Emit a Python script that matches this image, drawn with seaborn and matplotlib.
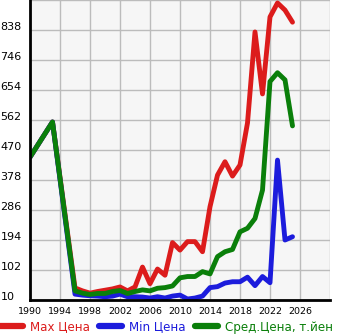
import matplotlib
matplotlib.use("Agg")
import matplotlib.pyplot as plt
import seaborn as sns
import pandas as pd

years = [1990, 1993, 1996, 1997, 1998, 1999, 2000, 2001, 2002, 2003, 2004, 2005,
         2006, 2007, 2008, 2009, 2010, 2011, 2012, 2013, 2014, 2015, 2016, 2017,
         2018, 2019, 2020, 2021, 2022, 2023, 2024, 2025]
max_price = [448, 556, 47, 38, 31, 36, 40, 44, 50, 38, 50, 111,
             60, 105, 86, 186, 163, 189, 189, 158, 296, 393, 434, 390,
             424, 553, 832, 642, 878, 921, 899, 862]
min_price = [448, 556, 28, 25, 23, 22, 20, 22, 28, 20, 20, 19,
             16, 20, 16, 22, 25, 13, 16, 22, 48, 51, 62, 66,
             66, 80, 54, 82, 63, 439, 194, 204]
avg_price = [448, 556, 38, 31, 27, 30, 30, 36, 39, 30, 36, 41,
             38, 46, 48, 53, 78, 82, 82, 97, 90, 143, 158, 165,
             219, 230, 260, 347, 680, 707, 685, 544]

series_names = ["Max Цена", "Min Цена", "Сред.Цена, т.йен"]
colors = ["#dc1c1c", "#1c1cdc", "#0a7f0a"]
x_ticks = [1990, 1994, 1998, 2002, 2006, 2010, 2014, 2018, 2022, 2026, 2030]
x_labels = ["1990", "1994", "1998", "2002", "2006", "2010", "2014", "2018", "2022", "2026", ""]
y_ticks = [10, 102, 194, 286, 378, 470, 562, 654, 746, 838, 930]
y_labels = ["10", "102", "194", "286", "378", "470", "562", "654", "746", "838", ""]

df = pd.concat([
    pd.DataFrame({"year": years, "value": vals, "series": name})
    for name, vals in zip(series_names, [max_price, min_price, avg_price])
], ignore_index=True)

sns.set_theme(style="white")
plt.rcParams["font.family"] = ["DejaVu Sans"]
plt.rcParams["lines.solid_joinstyle"] = "round"
plt.rcParams["lines.solid_capstyle"] = "round"

W, H = 345, 335
fig = plt.figure(figsize=(W / 100, H / 100), dpi=100)
ax = fig.add_axes([30 / W, 35 / H, 300 / W, 300 / H])
ax.set_facecolor("#f6f6f6")

sns.lineplot(data=df, x="year", y="value", hue="series", hue_order=series_names,
             palette=colors, linewidth=3.5, legend=False, ax=ax, sort=False)

ax.set_xlim(1990, 2030)
ax.set_ylim(10, 930)
ax.set_xticks(x_ticks)
ax.set_xticklabels(x_labels, fontsize=6.8)
ax.set_yticks(y_ticks)
ax.set_yticklabels(y_labels, fontsize=8.0, ha="left", va="baseline")
ax.set_xlabel("")
ax.set_ylabel("")
ax.grid(True, color="#bcbcbc", linewidth=1.0)
ax.set_axisbelow(True)
for s in ["top", "right"]:
    ax.spines[s].set_visible(False)
for s in ["left", "bottom"]:
    ax.spines[s].set_color("black")
    ax.spines[s].set_linewidth(2.0)
ax.tick_params(axis="y", length=2.5, width=1, pad=18.8, colors="black")
ax.tick_params(axis="x", length=2.5, width=1, pad=2.5, colors="black")
for t in ax.yaxis.get_major_ticks():
    t.tick1line.set_color("#bcbcbc")

handles = ax.get_lines()[:3]
leg = fig.legend(handles, series_names, loc="center left", bbox_to_anchor=(0.0, 8 / H),
                 bbox_transform=fig.transFigure, ncol=3, frameon=False, fontsize=8.6,
                 borderaxespad=0, borderpad=0, handlelength=1.9, handletextpad=0.6,
                 columnspacing=0.8, labelcolor="linecolor")
for lh in leg.get_lines():
    lh.set_linewidth(4.5)

fig.savefig("out.png", dpi=100)
